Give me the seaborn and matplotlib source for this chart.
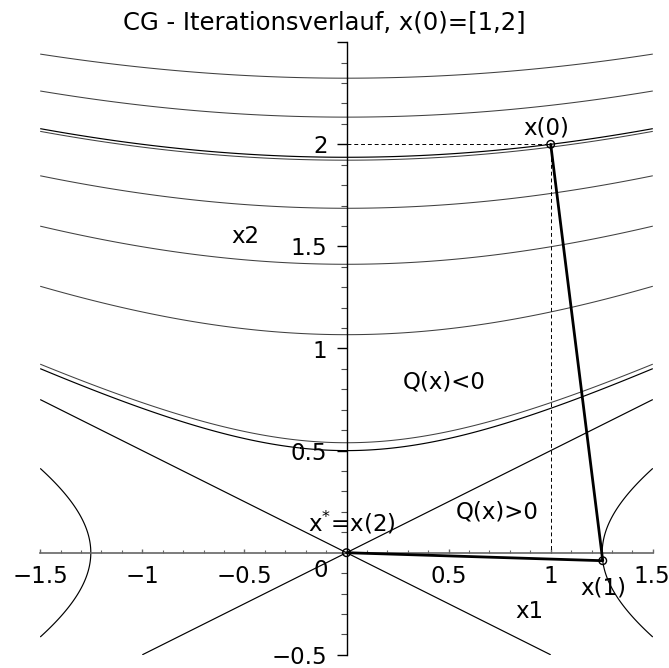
import numpy as np
import pandas as pd
import matplotlib
matplotlib.use("Agg")
import matplotlib.pyplot as plt
from matplotlib.ticker import MultipleLocator
from matplotlib.transforms import ScaledTranslation
import seaborn as sns

# Quadratic form Q(x) = 1/2 * x^T A x
A = [[1.0, 0.0], [0.0, -4.0]]

# CG iterates x(0), x(1), x(2)
iter_x1 = [1.0, 1.2549, 0.0]
iter_x2 = [2.0, -0.0392, 0.0]

# contour levels: evenly spaced set plus levels through the iterates
grid_levels = [-10.8, -9.1, -7.39, -5.69, -3.99, -2.28, -0.58]
path_levels = [-7.5, -0.5, 0.0, 0.784]

x_range = [-1.5, 1.5]
y_range = [-0.5, 2.5]
x_ticks = [-1.5, -1, -0.5, 0.5, 1, 1.5]
x_tick_labels = ["\u22121.5", "\u22121", "\u22120.5", "0.5", "1", "1.5"]
y_ticks = [-0.5, 0.5, 1, 1.5, 2, 2.5]
y_tick_labels = ["\u22120.5", "0.5", "1", "1.5", "2", ""]

title = "CG - Iterationsverlauf, x(0)=[1,2]"

sns.set_style("ticks")
plt.rcParams["font.family"] = ["DejaVu Sans"]
plt.rcParams["text.color"] = "black"
plt.rcParams["xtick.color"] = "black"
plt.rcParams["ytick.color"] = "black"
plt.rcParams["contour.negative_linestyle"] = "solid"
FS = 16.5

fig = plt.figure(figsize=(6.69, 6.68), dpi=100)
ax = fig.add_axes([40.2 / 669, (668 - 654.8) / 668, 612.6 / 669, 612.6 / 668])
ax.set_xlim(*x_range)
ax.set_ylim(*y_range)

# contour field of Q on a fine grid
g1 = np.linspace(x_range[0], x_range[1], 801)
g2 = np.linspace(y_range[0], y_range[1], 801)
X1, X2 = np.meshgrid(g1, g2)
Q = 0.5 * (A[0][0] * X1**2 + (A[0][1] + A[1][0]) * X1 * X2 + A[1][1] * X2**2)

ax.contour(X1, X2, Q, levels=grid_levels, colors="0.25", linewidths=0.75,
           linestyles="solid")
ax.contour(X1, X2, Q, levels=sorted(path_levels), colors="black",
           linewidths=0.85, linestyles="solid")

# guides to the start point
ax.plot([0, iter_x1[0]], [iter_x2[0], iter_x2[0]], color="black", lw=0.7,
        ls=(0, (4, 3)))
ax.plot([iter_x1[0], iter_x1[0]], [iter_x2[0], 0], color="black", lw=0.7,
        ls=(0, (4, 3)))

# iteration path
path = pd.DataFrame({"x1": iter_x1, "x2": iter_x2})
sns.lineplot(data=path, x="x1", y="x2", sort=False, estimator=None,
             color="black", lw=2.0, ax=ax, zorder=4)
sns.scatterplot(data=path, x="x1", y="x2", marker="o", s=30,
                facecolor="none", edgecolor="black", linewidth=1.0,
                ax=ax, zorder=5)

# axes through the origin
for side in ("top", "right"):
    ax.spines[side].set_visible(False)
ax.spines["left"].set_position(("data", 0))
ax.spines["bottom"].set_position(("data", 0))
ax.spines["left"].set_color("black")
ax.spines["left"].set_linewidth(1.0)
ax.spines["bottom"].set_color("0.4")
ax.spines["bottom"].set_linewidth(1.2)

ax.set_xticks(x_ticks)
ax.set_xticklabels(x_tick_labels)
ax.set_yticks(y_ticks)
ax.set_yticklabels(y_tick_labels)
ax.xaxis.set_minor_locator(MultipleLocator(0.1))
ax.yaxis.set_minor_locator(MultipleLocator(0.1))
ax.tick_params(axis="x", which="both", bottom=True, top=False)
ax.tick_params(axis="y", which="both", left=True, right=False)
ax.tick_params(axis="x", which="major", direction="in", length=3.2, width=1.0,
               color="0.4", pad=9, labelsize=FS, labelcolor="black")
ax.tick_params(axis="x", which="minor", direction="in", length=2.4, width=0.8,
               color="0.4")
ax.tick_params(axis="y", which="major", direction="out", length=7.2, width=1.0,
               color="black", pad=6.5, labelsize=FS, labelcolor="black")
ax.tick_params(axis="y", which="minor", direction="out", length=4.6, width=0.8,
               color="0.3")
ax.set_xlabel("")
ax.set_ylabel("")
ax.grid(False)

# keep the last x tick label inside the figure
last = ax.xaxis.get_majorticklabels()[-1]
last.set_horizontalalignment("right")
last.set_transform(last.get_transform()
                   + ScaledTranslation(17 / 100, 0, fig.dpi_scale_trans))

# labels inside the plot
ax.text(-0.125, -0.085, "0", ha="center", va="center", fontsize=FS)
ax.text(0.895, -0.29, "x1", ha="center", va="center", fontsize=FS)
ax.text(-0.497, 1.547, "x2", ha="center", va="center", fontsize=FS)
ax.text(0.98, 2.08, "x(0)", ha="center", va="center", fontsize=FS)
ax.text(1.26, -0.174, "x(1)", ha="center", va="center", fontsize=FS)
ax.text(0.027, 0.145, r"x$^{*}$=x(2)", ha="center", va="center", fontsize=FS)
ax.text(0.476, 0.837, "Q(x)<0", ha="center", va="center", fontsize=FS)
ax.text(0.737, 0.2, "Q(x)>0", ha="center", va="center", fontsize=FS)

fig.text(324 / 669, 1 - 22 / 668, title, ha="center", va="center",
         fontsize=17.5)

fig.savefig("out.png", dpi=100, facecolor="white")
